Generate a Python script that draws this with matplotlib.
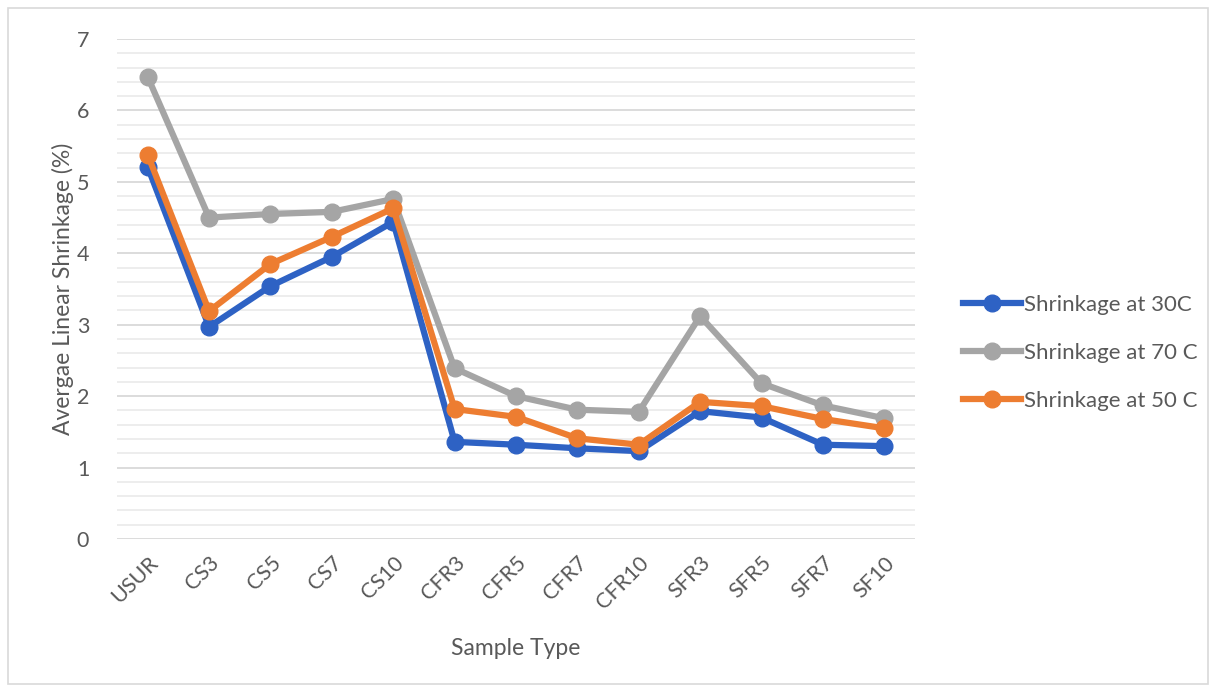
import matplotlib
matplotlib.use("Agg")
import matplotlib.pyplot as plt
from matplotlib.patches import Rectangle
from matplotlib.ticker import MultipleLocator

categories = ["USUR", "CS3", "CS5", "CS7", "CS10", "CFR3", "CFR5", "CFR7",
              "CFR10", "SFR3", "SFR5", "SFR7", "SF10"]
shrink_30 = [5.21, 2.97, 3.54, 3.95, 4.44, 1.36, 1.32, 1.27, 1.23, 1.79, 1.70, 1.32, 1.30]
shrink_70 = [6.47, 4.50, 4.55, 4.58, 4.76, 2.39, 2.00, 1.81, 1.78, 3.12, 2.18, 1.87, 1.69]
shrink_50 = [5.38, 3.19, 3.85, 4.23, 4.63, 1.82, 1.71, 1.41, 1.32, 1.92, 1.86, 1.68, 1.55]

plt.rcParams['font.family'] = ['Lato', 'DejaVu Sans']
txt = '#595959'

fig = plt.figure(figsize=(12.17, 6.92), dpi=100)
ax = fig.add_axes([117/1217, 1-539/692, (915-117)/1217, (539-39)/692])

x = list(range(len(categories)))
ax.plot(x, shrink_30, color='#2E62C4', lw=4.5, marker='o', ms=12, label='Shrinkage at 30C', zorder=3)
ax.plot(x, shrink_70, color='#A5A5A5', lw=4.5, marker='o', ms=12, label='Shrinkage at 70 C', zorder=3)
ax.plot(x, shrink_50, color='#ED7D31', lw=4.5, marker='o', ms=12, label='Shrinkage at 50 C', zorder=3)

ax.set_xlim(-0.5, 12.5)
ax.set_ylim(0, 7)
ax.yaxis.set_major_locator(MultipleLocator(1))
ax.yaxis.set_minor_locator(MultipleLocator(0.2))
ax.grid(which='major', axis='y', color='#d9d9d9', lw=1.3)
ax.grid(which='minor', axis='y', color='#ececec', lw=1.3)
ax.set_axisbelow(True)
for s in ax.spines.values():
    s.set_visible(False)
ax.tick_params(axis='both', which='both', length=0, colors=txt, labelsize=15.5)
ax.tick_params(axis='y', pad=20)
ax.set_xticks(x)
ax.set_xticklabels(categories, rotation=45, ha='right', rotation_mode='anchor')
ax.tick_params(axis='x', pad=10)
ax.set_xlabel('Sample Type', fontsize=16.5, color=txt, labelpad=18)
ax.set_ylabel('Avergae Linear Shrinkage (%)', fontsize=16.5, color=txt)
ax.yaxis.set_label_coords((74 - 117) / 798, 0.5)

leg = fig.legend(loc='center left', bbox_to_anchor=(943/1217, 1-353/692), frameon=False,
                 fontsize=16, handlelength=2.6, handletextpad=0.15, labelspacing=1.25,
                 labelcolor=txt)

fig.patches.append(Rectangle((8/1217, 8/692), 1200/1217, 676/692, transform=fig.transFigure,
                             fill=False, edgecolor='#d9d9d9', lw=1.2))

fig.savefig('out.png', dpi=100)
